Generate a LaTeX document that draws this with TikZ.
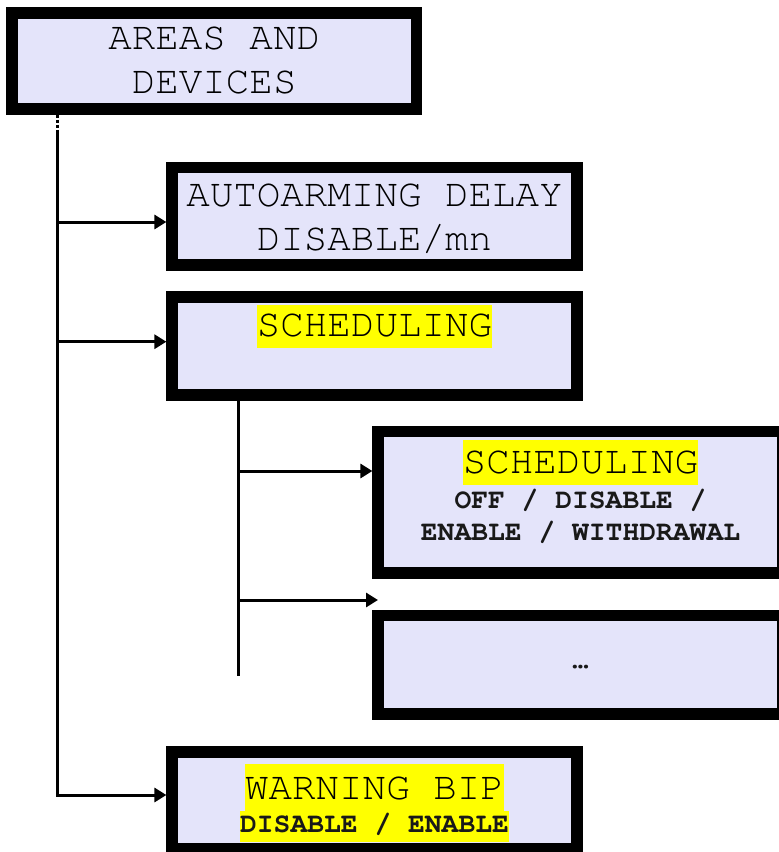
\documentclass[tikz,border=0pt]{standalone}
\usepackage{fontspec}
\setmonofont{texgyrecursor}[Extension=.otf, UprightFont=*-regular, BoldFont=*-bold]
\usetikzlibrary{arrows.meta}
\definecolor{boxfill}{RGB}{228,228,250}
\definecolor{hl}{RGB}{255,255,0}
\tikzset{
  menubox/.style={draw=black, line width=11.7pt, fill=boxfill, minimum width=404.5pt, inner sep=0pt},
  bigtxt/.style={font=\fontsize{39.2}{44}\selectfont\ttfamily, anchor=base, inner sep=0pt, text=black},
  smalltxt/.style={font=\fontsize{28}{31}\selectfont\ttfamily\bfseries, anchor=base, inner sep=0pt, text=black!90},
  hilite/.style={fill=hl, text height=31.7pt, text depth=11.3pt},
  link/.style={line width=3pt, -{Triangle[length=12pt,width=14pt]}},
  trunk/.style={line width=3pt},
  subtrunk/.style={line width=2.7pt}
}
\begin{document}
\begin{tikzpicture}[x=1pt,y=-1pt]
\useasboundingbox (0,0) rectangle (779,852);
% boxes
\node[menubox, minimum height=96.2pt] (box1) at (214.2,60.9) {};
\node[menubox, minimum height=97.7pt] (box2) at (374.5,216.2) {};
\node[menubox, minimum height=97.5pt] (box3) at (374.5,346) {};
\node[menubox, minimum height=141.5pt] (box4) at (580.5,502.2) {};
\node[menubox, minimum height=98.9pt] (box5) at (580.5,664.8) {};
\node[menubox, minimum height=97.5pt] (box6) at (374.5,800.5) {};
% texts
\node[bigtxt] (t1a) at (214.2,49.3) {AREAS AND};
\node[bigtxt] (t1b) at (214.2,93.3) {DEVICES};
\node[bigtxt] (t2a) at (374.5,206.7) {AUTOARMING DELAY};
\node[bigtxt] (t2b) at (374.5,250.7) {DISABLE/mn};
\node[bigtxt, hilite] (t3a) at (374.5,336.7) {SCHEDULING};
\node[bigtxt, hilite, text height=33.9pt, text depth=11.5pt] (t4a) at (580.5,473.5) {SCHEDULING};
\node[smalltxt] (t4b) at (580.5,508.5) {OFF / DISABLE /};
\node[smalltxt] (t4c) at (580.5,540) {ENABLE / WITHDRAWAL};
\node[smalltxt] (t5a) at (580.5,668) {…};
\node[bigtxt, hilite, text height=35pt, text depth=11.4pt] (t6a) at (374.5,799.3) {WARNING BIP};
\node[smalltxt, fill=hl, text height=21.3pt, text depth=10pt] (t6b) at (374.5,832) {DISABLE / ENABLE};
% main trunk
\coordinate (m0) at (57.3,133);
\draw[trunk, dotted] (m0 |- box1.south) -- (m0);
\coordinate (b2) at ([yshift=-5.8pt]box2.west);
\coordinate (b3) at ([yshift=4.3pt]box3.west);
\coordinate (b6) at ([yshift=5.5pt]box6.west);
\draw[link] (m0) |- (b6);
\draw[link] (m0 |- b2) -- (b2);
\draw[link] (m0 |- b3) -- (b3);
% sub trunk
\coordinate (s0) at (238.3,676);
\draw[subtrunk] (s0 |- box3.south) -- (s0);
\coordinate (b4) at ([yshift=31.2pt]box4.west);
\coordinate (e5) at (378,600);
\draw[link] (s0 |- b4) -- (b4);
\draw[link] (s0 |- e5) -- (e5);
\end{tikzpicture}
\end{document}
